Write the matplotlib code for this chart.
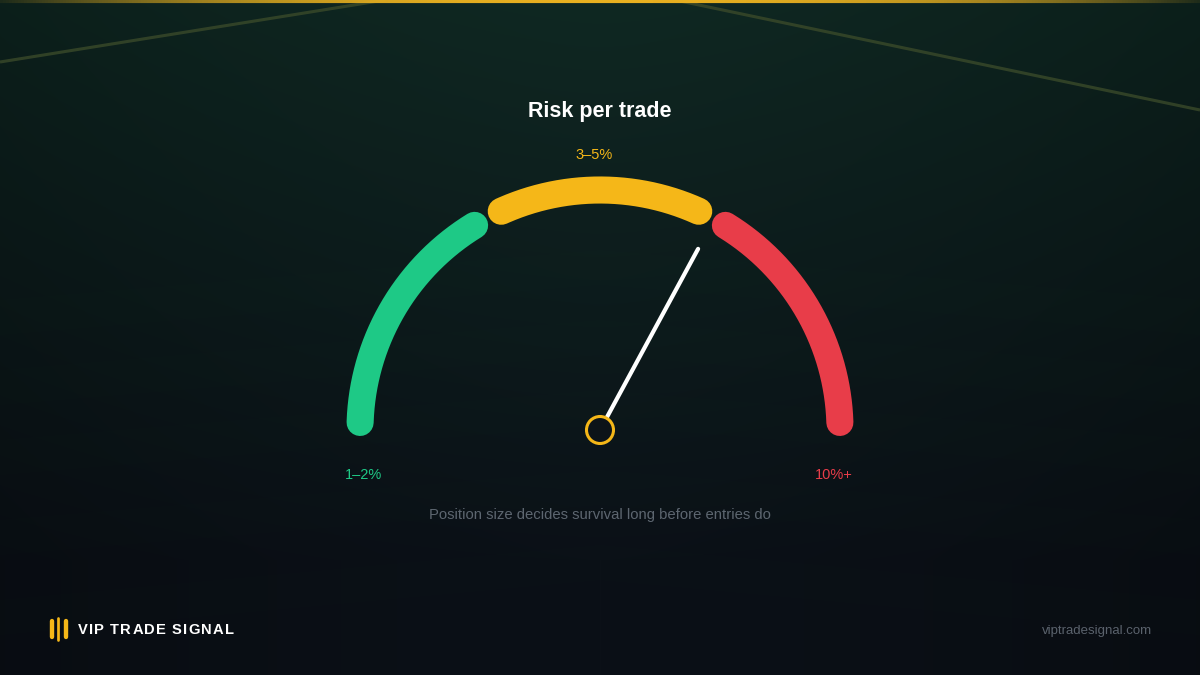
import numpy as np
import matplotlib
matplotlib.use("Agg")
import matplotlib.pyplot as plt
from matplotlib.patches import Circle, Polygon
from matplotlib.colors import to_rgb

# ---------------- data ----------------
title = "Risk per trade"
zone_labels = ["1–2%", "3–5%", "10%+"]
zone_colors = ["#1ec986", "#f5b718", "#e83d49"]
zone_start = [1.0, 36.5, 67.5]   # gauge units (0..100)
zone_end = [32.5, 63.5, 99.0]
needle_value = 65.8               # gauge units
subtitle = "Position size decides survival long before entries do"
brand = "VIP TRADE SIGNAL"
site = "viptradesignal.com"

# ---------------- figure ----------------
W, H = 1200, 675
fig = plt.figure(figsize=(12, 6.75), dpi=100)
ax = fig.add_axes([0, 0, 1, 1])
ax.set_xlim(0, W)
ax.set_ylim(H, 0)
ax.axis("off")

# background gradient
yy, xx = np.mgrid[0:H, 0:W]
top = np.array(to_rgb("#0f2822"))
bot = np.array(to_rgb("#0b1017"))
t = np.clip(yy / 560.0, 0, 1)[..., None]
img = top * (1 - t) + bot * t
d = np.abs(xx - 600) / 600.0
v = (1 - 0.22 * d ** 1.5)[..., None]
img = np.clip(img * v, 0, 1)
ax.imshow(img, extent=[0, W, H, 0], zorder=0, aspect="auto")

# faint chevron bands
for yl, yc in [(300, 250), (370, 320), (440, 390), (520, 470), (600, 545)]:
    ax.add_patch(Polygon([[0, yl], [600, yc], [1200, yl], [1200, yl + 35], [600, yc + 35], [0, yl + 35]],
                         closed=True, facecolor="#1e3a22", alpha=0.045, edgecolor="none", zorder=1))

# top diagonal lines
ax.plot([0, 385], [62, 0], color="#3a4a2a", lw=2.2, alpha=0.8, zorder=1, solid_capstyle="butt")
ax.plot([675, 1200], [0, 110], color="#3a4a2a", lw=2.2, alpha=0.8, zorder=1, solid_capstyle="butt")

# top gold line with fading ends
gx = np.linspace(0, W, 400)
for i in range(len(gx) - 1):
    a = np.clip(1 - np.abs((gx[i] - 600) / 620) ** 2.5, 0, 1)
    ax.plot([gx[i], gx[i + 1]], [1.3, 1.3], color="#e8b020", lw=3.0, alpha=a, zorder=2,
            solid_capstyle="butt")

# gauge
cx, cy, R = 600, 430, 240


def ang(v):
    return 180.0 - 180.0 * v / 100.0


for s, e, c in zip(zone_start, zone_end, zone_colors):
    a1, a2 = ang(e), ang(s)
    th = np.linspace(np.radians(a1), np.radians(a2), 200)
    ax.plot(cx + R * np.cos(th), cy - R * np.sin(th), color=c, lw=19.5,
            solid_capstyle="round", zorder=3)

# needle
na = np.radians(ang(needle_value))
r0, r1 = 15, 206
ax.plot([cx + r0 * np.cos(na), cx + r1 * np.cos(na)],
        [cy - r0 * np.sin(na), cy - r1 * np.sin(na)],
        color="white", lw=3.0, solid_capstyle="round", zorder=4)
ax.add_patch(Circle((cx, cy), 13.5, facecolor="#0c1318", edgecolor="#f5b718", lw=2.2, zorder=5))

# text
fam = ["Liberation Sans", "DejaVu Sans"]
ax.text(600, 112, title, color="white", fontsize=15.5, fontweight="bold", ha="center", va="center",
        family=fam, zorder=6)
ax.text(594, 155, zone_labels[1], color=zone_colors[1], fontsize=10.5, ha="center", va="center",
        family=fam, zorder=6)
ax.text(364, 475, zone_labels[0], color=zone_colors[0], fontsize=10.5, ha="center", va="center",
        family=fam, zorder=6)
ax.text(834, 475, zone_labels[2], color=zone_colors[2], fontsize=10.5, ha="center", va="center",
        family=fam, zorder=6)
ax.text(600, 515, subtitle, color="#5d6670", fontsize=10.7, ha="center", va="center",
        family=fam, zorder=6)

# footer logo bars
for bx, h, w in zip([51.5, 57.5, 65.5], [16, 22, 16], [4.2, 2.6, 4.2]):
    ax.plot([bx, bx], [629 - h / 2, 629 + h / 2], color="#f5b718", lw=w * 0.75,
            solid_capstyle="round", zorder=6)

# brand with letter spacing
renderer = fig.canvas.get_renderer()
inv = ax.transData.inverted()
x0, track = 78.0, 1.15
for i, ch in enumerate(brand):
    prefix = brand[:i]
    if prefix:
        tt = ax.text(0, 0, prefix, fontsize=10.6, fontweight="bold", family=fam)
        wpx = tt.get_window_extent(renderer).width
        tt.remove()
    else:
        wpx = 0.0
    ax.text(x0 + wpx + i * track, 630, ch, color="white", fontsize=10.6, fontweight="bold",
            ha="left", va="center", family=fam, zorder=6)

ax.text(1152, 631, site, color="#5a626c", fontsize=9.5, ha="right", va="center",
        family=fam, zorder=6)

fig.savefig("out.png", dpi=100, facecolor="#0b1017")
